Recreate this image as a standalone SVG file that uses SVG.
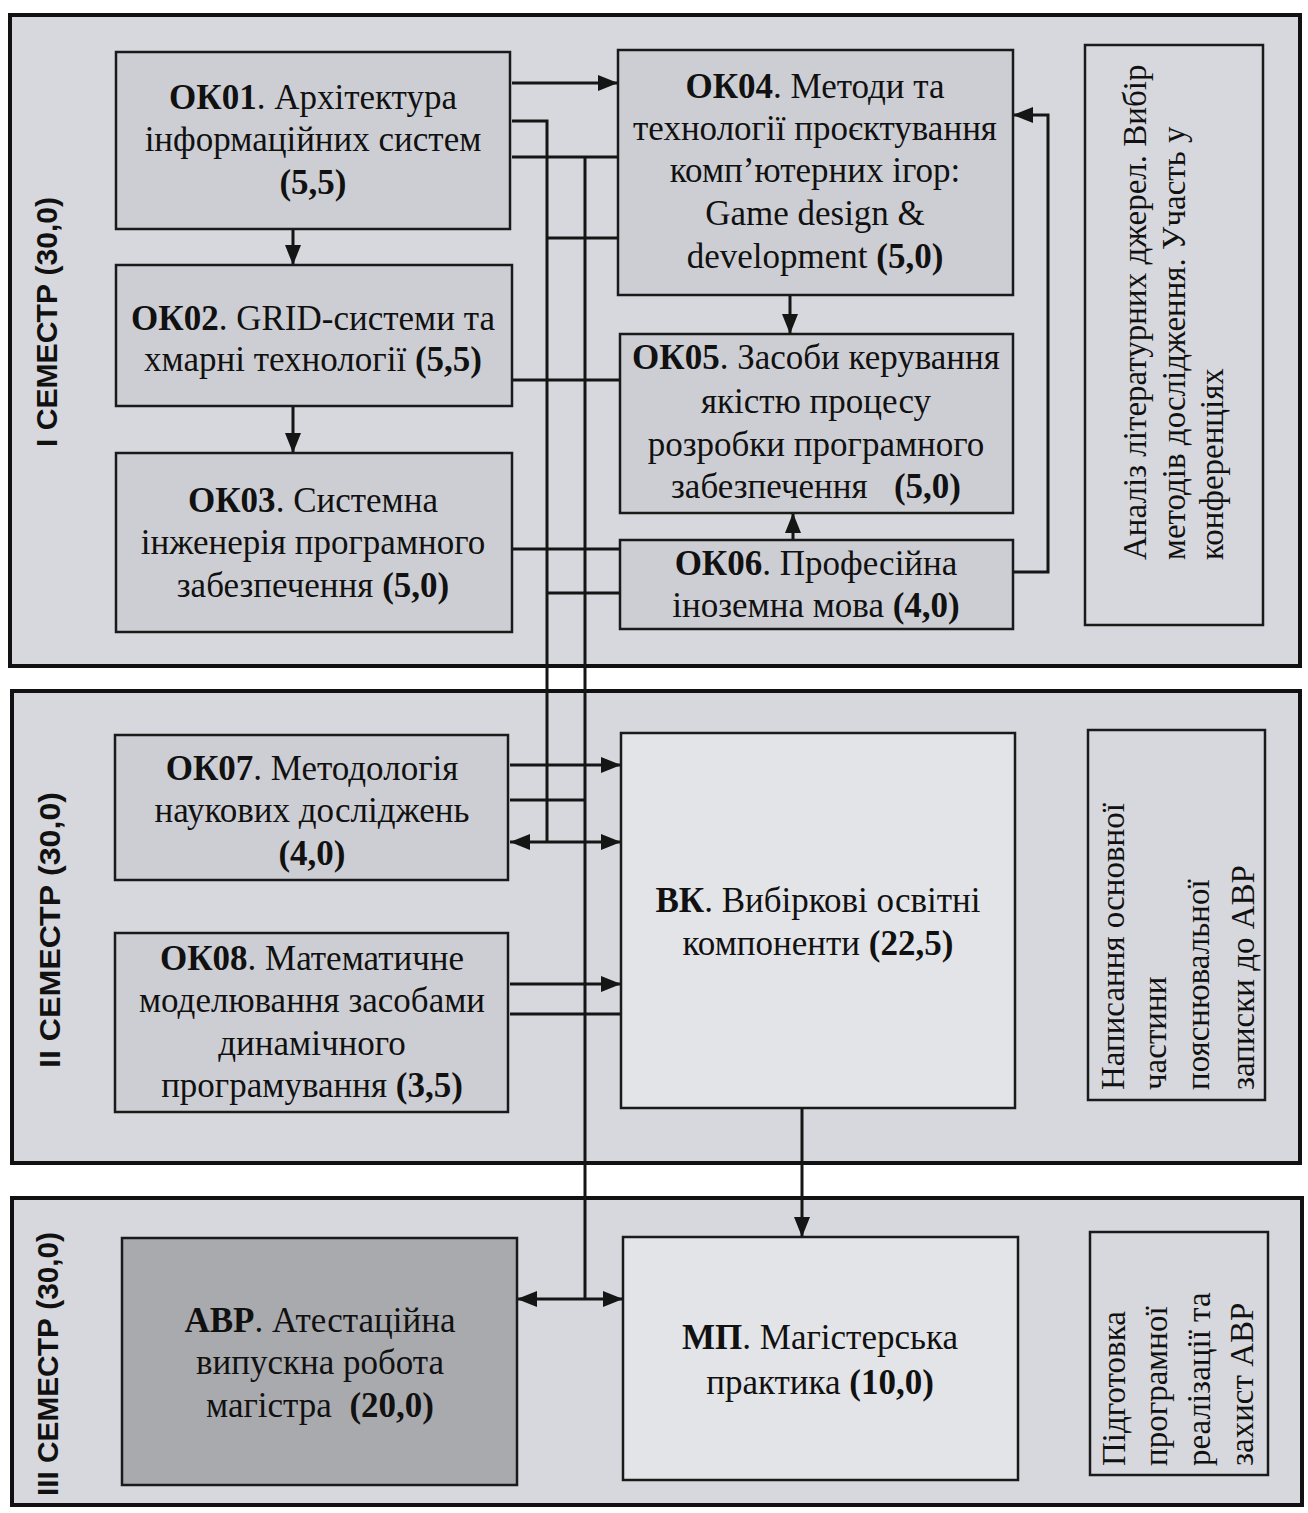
<svg xmlns="http://www.w3.org/2000/svg" width="1308" height="1513" viewBox="0 0 1308 1513">
<style>
.panel{fill:#d7d8dd;stroke:#111;stroke-width:4}
.box{fill:#cdced3;stroke:#1a1a1a;stroke-width:2.5}
.lbox{fill:#e3e4e8;stroke:#1a1a1a;stroke-width:2.5}
.dbox{fill:#a9aaae;stroke:#1a1a1a;stroke-width:2.5}
.side{fill:#d7d8dd;stroke:#1a1a1a;stroke-width:2.5}
.t{font-family:"Liberation Serif","DejaVu Serif",serif;font-size:35px;fill:#111;text-anchor:middle;white-space:pre}
.r{font-family:"Liberation Serif","DejaVu Serif",serif;font-size:33px;fill:#111;text-anchor:start}
.b{font-weight:bold}
.sem{font-family:"Liberation Sans","DejaVu Sans",sans-serif;font-weight:bold;font-size:29px;fill:#111;text-anchor:middle}
.c{fill:none;stroke:#151515;stroke-width:3}
</style>
<defs>
<marker id="ah" markerUnits="userSpaceOnUse" markerWidth="22" markerHeight="16" refX="20" refY="8" orient="auto-start-reverse">
<path d="M0,0 L20,8 L0,16 Z" fill="#151515"/>
</marker>
</defs>
<rect width="1308" height="1513" fill="#ffffff"/>
<g id="panel1">
<rect class="panel" x="10" y="15" width="1290" height="651"/>
<text class="sem" transform="translate(57,322) rotate(-90)" textLength="250" lengthAdjust="spacingAndGlyphs">I СЕМЕСТР (30,0)</text>
</g>
<g id="panel2">
<rect class="panel" x="12" y="691" width="1288" height="472"/>
<text class="sem" transform="translate(60,930) rotate(-90)" textLength="276" lengthAdjust="spacingAndGlyphs">II СЕМЕСТР (30,0)</text>
</g>
<g id="panel3">
<rect class="panel" x="12" y="1198" width="1290" height="307"/>
<text class="sem" transform="translate(58,1364) rotate(-90)" textLength="264" lengthAdjust="spacingAndGlyphs">III СЕМЕСТР (30,0)</text>
</g>
<g id="connectors">
<line class="c" x1="512" y1="83" x2="618" y2="83" marker-end="url(#ah)"/>
<polyline class="c" points="512,121 547,121 547,842"/>
<line class="c" x1="512" y1="157" x2="618" y2="157"/>
<line class="c" x1="585" y1="157" x2="585" y2="1299"/>
<line class="c" x1="547" y1="238" x2="618" y2="238"/>
<line class="c" x1="512" y1="380" x2="620" y2="380"/>
<line class="c" x1="512" y1="549" x2="620" y2="549"/>
<line class="c" x1="547" y1="593" x2="620" y2="593"/>
<line class="c" x1="510" y1="765" x2="621" y2="765" marker-end="url(#ah)"/>
<line class="c" x1="510" y1="800" x2="585" y2="800"/>
<line class="c" x1="510" y1="842" x2="621" y2="842" marker-start="url(#ah)" marker-end="url(#ah)"/>
<line class="c" x1="510" y1="984" x2="621" y2="984" marker-end="url(#ah)"/>
<line class="c" x1="510" y1="1014" x2="621" y2="1014"/>
<line class="c" x1="517" y1="1299" x2="623" y2="1299" marker-start="url(#ah)" marker-end="url(#ah)"/>
<line class="c" x1="802" y1="1108" x2="802" y2="1237" marker-end="url(#ah)"/>
<line class="c" x1="790" y1="295" x2="790" y2="334" marker-end="url(#ah)"/>
<line class="c" x1="793" y1="540" x2="793" y2="513" marker-end="url(#ah)"/>
<line class="c" x1="293" y1="229" x2="293" y2="265" marker-end="url(#ah)"/>
<line class="c" x1="293" y1="406" x2="293" y2="453" marker-end="url(#ah)"/>
<polyline class="c" points="1013,572 1048,572 1048,115 1013,115" marker-end="url(#ah)"/>
</g>
<g id="ok01">
<rect class="box" x="116" y="52" width="394" height="177"/>
<text class="t" x="313" y="109"><tspan class="b">ОК01</tspan>. Архітектура</text>
<text class="t" x="313" y="151">інформаційних систем</text>
<text class="t b" x="313" y="194">(5,5)</text>
</g>
<g id="ok02">
<rect class="box" x="116" y="265" width="396" height="141"/>
<text class="t" x="313" y="330"><tspan class="b">ОК02</tspan>. GRID-системи та</text>
<text class="t" x="313" y="371">хмарні технології <tspan class="b">(5,5)</tspan></text>
</g>
<g id="ok03">
<rect class="box" x="116" y="453" width="396" height="179"/>
<text class="t" x="313" y="512"><tspan class="b">ОК03</tspan>. Системна</text>
<text class="t" x="313" y="554">інженерія програмного</text>
<text class="t" x="313" y="597">забезпечення <tspan class="b">(5,0)</tspan></text>
</g>
<g id="ok04">
<rect class="box" x="618" y="50" width="395" height="245"/>
<text class="t" x="815" y="98"><tspan class="b">ОК04</tspan>. Методи та</text>
<text class="t" x="815" y="140">технології проєктування</text>
<text class="t" x="815" y="182">комп’ютерних ігор:</text>
<text class="t" x="815" y="225">Game design &amp;</text>
<text class="t" x="815" y="268">development <tspan class="b">(5,0)</tspan></text>
</g>
<g id="ok05">
<rect class="box" x="620" y="334" width="393" height="179"/>
<text class="t" x="816" y="369"><tspan class="b">ОК05</tspan>. Засоби керування</text>
<text class="t" x="816" y="413">якістю процесу</text>
<text class="t" x="816" y="456">розробки програмного</text>
<text class="t" x="816" y="498">забезпечення   <tspan class="b">(5,0)</tspan></text>
</g>
<g id="ok06">
<rect class="box" x="620" y="540" width="393" height="89"/>
<text class="t" x="816" y="575"><tspan class="b">ОК06</tspan>. Професійна</text>
<text class="t" x="816" y="617">іноземна мова <tspan class="b">(4,0)</tspan></text>
</g>
<g id="note1">
<rect class="side" x="1085" y="45" width="178" height="580"/>
<text class="r" transform="translate(1146,560) rotate(-90)">Аналіз літературних джерел. Вибір</text>
<text class="r" transform="translate(1185,560) rotate(-90)">методів дослідження. Участь у</text>
<text class="r" transform="translate(1223,560) rotate(-90)">конференціях</text>
</g>
<g id="ok07">
<rect class="box" x="115" y="735" width="393" height="145"/>
<text class="t" x="312" y="780"><tspan class="b">ОК07</tspan>. Методологія</text>
<text class="t" x="312" y="822">наукових досліджень</text>
<text class="t b" x="312" y="865">(4,0)</text>
</g>
<g id="ok08">
<rect class="box" x="115" y="933" width="393" height="179"/>
<text class="t" x="312" y="970"><tspan class="b">ОК08</tspan>. Математичне</text>
<text class="t" x="312" y="1012">моделювання засобами</text>
<text class="t" x="312" y="1055">динамічного</text>
<text class="t" x="312" y="1097">програмування <tspan class="b">(3,5)</tspan></text>
</g>
<g id="vk">
<rect class="lbox" x="621" y="733" width="394" height="375"/>
<text class="t" x="818" y="912"><tspan class="b">ВК</tspan>. Вибіркові освітні</text>
<text class="t" x="818" y="955">компоненти <tspan class="b">(22,5)</tspan></text>
</g>
<g id="note2">
<rect class="side" x="1088" y="730" width="177" height="370"/>
<text class="r" transform="translate(1124,1090) rotate(-90)">Написання основної</text>
<text class="r" transform="translate(1166,1090) rotate(-90)">частини</text>
<text class="r" transform="translate(1209,1090) rotate(-90)">пояснювальної</text>
<text class="r" transform="translate(1254,1090) rotate(-90)">записки до АВР</text>
</g>
<g id="avr">
<rect class="dbox" x="122" y="1238" width="395" height="247"/>
<text class="t" x="320" y="1332"><tspan class="b">АВР</tspan>. Атестаційна</text>
<text class="t" x="320" y="1374">випускна робота</text>
<text class="t" x="320" y="1417">магістра  <tspan class="b">(20,0)</tspan></text>
</g>
<g id="mp">
<rect class="lbox" x="623" y="1237" width="395" height="243"/>
<text class="t" x="820" y="1349"><tspan class="b">МП</tspan>. Магістерська</text>
<text class="t" x="820" y="1394">практика <tspan class="b">(10,0)</tspan></text>
</g>
<g id="note3">
<rect class="side" x="1090" y="1232" width="178" height="243"/>
<text class="r" transform="translate(1125,1466) rotate(-90)">Підготовка</text>
<text class="r" transform="translate(1167,1466) rotate(-90)">програмної</text>
<text class="r" transform="translate(1210,1466) rotate(-90)">реалізації та</text>
<text class="r" transform="translate(1253,1466) rotate(-90)">захист АВР</text>
</g>
</svg>
